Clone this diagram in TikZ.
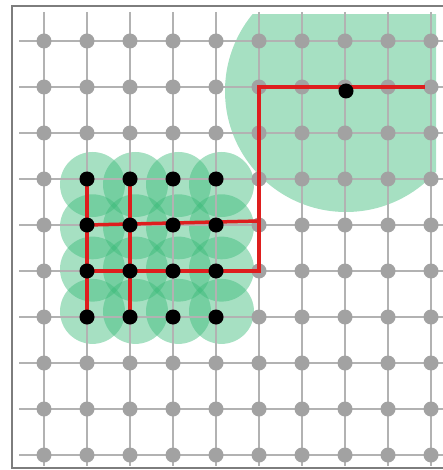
\documentclass[tikz,border=0pt]{standalone}
\definecolor{mint}{RGB}{57,186,120}
\definecolor{pathred}{RGB}{222,30,30}
\definecolor{framegray}{RGB}{125,125,125}
\definecolor{gridgray}{RGB}{178,178,178}
\definecolor{dotgray}{RGB}{162,162,162}
\begin{document}
\begin{tikzpicture}[x=1pt,y=-1pt,
  gdot/.style={circle,fill=dotgray,inner sep=0pt,minimum size=15pt},
  bdot/.style={circle,fill=black,inner sep=0pt,minimum size=15pt},
  blob/.style={fill=mint,fill opacity=.45},
  redline/.style={draw=pathred,line width=3.5pt}]
  \useasboundingbox (0,0) rectangle (443,470);
  \coordinate (goal) at (346,91);
  % reach of each cell
  \begin{scope}
    \clip (17,15) rectangle (436,462);
    \fill[blob] (goal) circle (121pt);
    \foreach \i in {0,...,3}
      \foreach \j in {0,...,3}
        \fill[blob] ({92.5+43*\i},{184.5+42.3*\j}) circle (32.5pt);
  \end{scope}
  \draw[framegray,line width=2pt] (12,6) rectangle (470,468);
  \foreach \i in {1,...,10} {
    \draw[gridgray,line width=1.3pt] ({1+43*\i},12) -- ({1+43*\i},466);
    \draw[gridgray,line width=1.3pt] (19,{-5+46*\i}) -- (443,{-5+46*\i});
  }
  \foreach \i in {1,...,10}
    \foreach \j in {1,...,10}
      \node[gdot] (g-\i-\j) at ({1+43*\i},{-5+46*\j}) {};
  % links
  \draw[redline] (g-2-4.center) -- (g-2-7.center);
  \draw[redline] (g-3-4.center) -- (g-3-7.center);
  \draw[redline] (g-2-5.center) -- ([yshift=4pt]g-6-5.center);
  \draw[redline,shorten >=6pt] (g-2-6.center) -- (g-6-6.center) -- (g-6-2.center) -- (g-10-2.center);
  \foreach \i in {2,...,5}
    \foreach \j in {4,...,7}
      \node[bdot] (b-\i-\j) at (g-\i-\j) {};
  \node[bdot] (target) at (goal) {};
\end{tikzpicture}
\end{document}
